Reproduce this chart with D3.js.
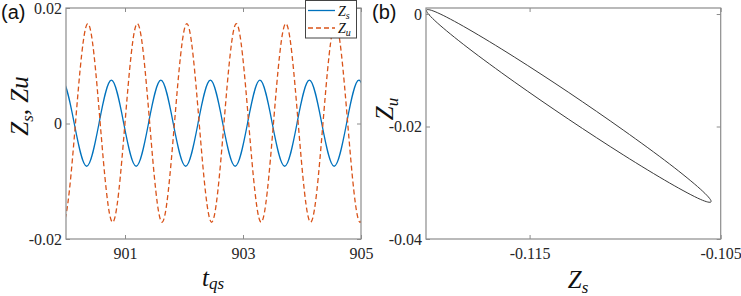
<!DOCTYPE html>
<html>
<head>
<meta charset="utf-8">
<script src="https://cdn.jsdelivr.net/npm/d3@7"></script>
<style>
body { margin: 0; background: #fff; }
.tick text { font-family: "Liberation Serif", serif; font-size: 16px; fill: #262626; }
.lbl { font-family: "Liberation Serif", serif; font-style: italic; font-size: 25px; fill: #111; }
.panel { font-family: "Liberation Sans", sans-serif; font-size: 20px; fill: #111; }
</style>
</head>
<body>
<svg id="chart" width="741" height="296"></svg>
<script>
// panel (a): time series, samples read at peaks / zero crossings
var tZs = [899.720, 899.930, 900.140, 900.350, 900.559, 900.769, 900.979, 901.189, 901.398, 901.608,
  901.818, 902.028, 902.237, 902.447, 902.657, 902.867, 903.076, 903.286, 903.496,
  903.706, 903.915, 904.125, 904.335, 904.545, 904.755, 904.964, 905.174];
var zsVals = [0, 0.0074, 0, -0.0074, 0, 0.0075, 0, -0.0074, 0, 0.0075,
  0, -0.0074, 0, 0.0075, 0, -0.0074, 0, 0.0075, 0,
  -0.0074, 0, 0.0075, 0, -0.0074, 0, 0.0075, 0];

var tZu = [899.741, 899.951, 900.160, 900.370, 900.580, 900.790, 900.999, 901.209, 901.419, 901.628,
  901.838, 902.048, 902.258, 902.468, 902.677, 902.887, 903.097, 903.307, 903.516,
  903.726, 903.936, 904.146, 904.355, 904.565, 904.775, 904.985, 905.194];
var zuVals = [0, -0.0171, 0, 0.0173, 0, -0.0171, 0, 0.0173, 0, -0.0171,
  0, 0.0173, 0, -0.0171, 0, 0.0173, 0, -0.0171, 0,
  0.0173, 0, -0.0171, 0, 0.0173, 0, -0.0171, 0];

// panel (b): phase portrait Zs vs Zu (closed loop)
var ellZs = [-0.10550, -0.10607, -0.10768, -0.11010, -0.11295, -0.11580, -0.11822, -0.11983,
  -0.12040, -0.11983, -0.11822, -0.11580, -0.11295, -0.11010, -0.10768, -0.10607];
var ellZu = [-0.03331, -0.03294, -0.03003, -0.02504, -0.01873, -0.01206, -0.00603, -0.00157,
  0.00063, 0.00025, -0.00265, -0.00764, -0.01395, -0.02063, -0.02665, -0.03111];

// ticks
var aXTicks = [901, 903, 905], aXLabels = ["901", "903", "905"];
var aYTicks = [-0.02, 0, 0.02], aYLabels = ["-0.02", "0", "0.02"];
var bXTicks = [-0.115, -0.105], bXLabels = ["-0.115", "-0.105"];
var bYTicks = [-0.04, -0.02, 0], bYLabels = ["-0.04", "-0.02", "0"];

var legendNames = ["s", "u"];
var seriesColors = ["#0072BD", "#D95319"];
var axisColor = "#8c8c8c";

var svg = d3.select("#chart");

var xa = d3.scaleLinear().domain([900, 905]).range([66, 361]);
var ya = d3.scaleLinear().domain([-0.02, 0.02]).range([239, 8]);
var xb = d3.scaleLinear().domain([-0.12042, -0.105]).range([426, 720.7]);
var yb = d3.scaleLinear().domain([-0.04, 0.00107]).range([239, 8]);

function drawAxes(x, y, xt, xl, yt, yl) {
  var g = svg.append("g").attr("color", axisColor);
  var x0 = x.range()[0], x1 = x.range()[1], y0 = y.range()[0], y1 = y.range()[1];

  g.append("g").attr("transform", "translate(0," + y0 + ")")
    .call(d3.axisBottom(x).tickValues(xt).tickFormat(function(d, i) { return xl[i]; })
      .tickSize(-4).tickPadding(9))
    .call(function(s) { s.select(".domain").remove(); });
  g.append("g").attr("transform", "translate(0," + y1 + ")")
    .call(d3.axisTop(x).tickValues(xt).tickFormat("").tickSize(-4))
    .call(function(s) { s.select(".domain").remove(); });
  g.append("g").attr("transform", "translate(" + x0 + ",0)")
    .call(d3.axisLeft(y).tickValues(yt).tickFormat(function(d, i) { return yl[i]; })
      .tickSize(-4).tickPadding(4))
    .call(function(s) { s.select(".domain").remove(); });
  g.append("g").attr("transform", "translate(" + x1 + ",0)")
    .call(d3.axisRight(y).tickValues(yt).tickFormat("").tickSize(-4))
    .call(function(s) { s.select(".domain").remove(); });

  g.append("rect")
    .attr("x", x0).attr("y", y1)
    .attr("width", x1 - x0).attr("height", y0 - y1)
    .attr("fill", "none").attr("stroke", axisColor).attr("stroke-width", 1.2);
}

function addClip(id, x, y) {
  svg.append("clipPath").attr("id", id).append("rect")
    .attr("x", x.range()[0]).attr("y", y.range()[1])
    .attr("width", x.range()[1] - x.range()[0])
    .attr("height", y.range()[0] - y.range()[1]);
}
addClip("clipA", xa, ya);
addClip("clipB", xb, yb);

// panel (a) lines
var lineA = d3.line()
  .x(function(d) { return xa(d[0]); })
  .y(function(d) { return ya(d[1]); })
  .curve(d3.curveNatural);

var plotA = svg.append("g").attr("clip-path", "url(#clipA)");
plotA.append("path")
  .datum(d3.zip(tZs, zsVals))
  .attr("d", lineA)
  .attr("fill", "none").attr("stroke", seriesColors[0]).attr("stroke-width", 1.3);
plotA.append("path")
  .datum(d3.zip(tZu, zuVals))
  .attr("d", lineA)
  .attr("fill", "none").attr("stroke", seriesColors[1]).attr("stroke-width", 1.3)
  .attr("stroke-dasharray", "5,3");

drawAxes(xa, ya, aXTicks, aXLabels, aYTicks, aYLabels);

// panel (b) loop
var lineB = d3.line()
  .x(function(d) { return xb(d[0]); })
  .y(function(d) { return yb(d[1]); })
  .curve(d3.curveCardinalClosed);

svg.append("g").attr("clip-path", "url(#clipB)")
  .append("path")
  .datum(d3.zip(ellZs, ellZu))
  .attr("d", lineB)
  .attr("fill", "none").attr("stroke", "#3a3a3a").attr("stroke-width", 1);

drawAxes(xb, yb, bXTicks, bXLabels, bYTicks, bYLabels);

// legend
var leg = svg.append("g");
leg.append("rect")
  .attr("x", 305.5).attr("y", 0.5).attr("width", 51).attr("height", 37.5)
  .attr("fill", "#fff").attr("stroke", "#444").attr("stroke-width", 1);
legendNames.forEach(function(n, i) {
  var ly = 10.5 + i * 17.5;
  leg.append("line")
    .attr("x1", 308).attr("x2", 335).attr("y1", ly).attr("y2", ly)
    .attr("stroke", seriesColors[i]).attr("stroke-width", 1.3)
    .attr("stroke-dasharray", i === 1 ? "5,3" : null);
  var t = leg.append("text").attr("class", "lbl").style("font-size", "14px")
    .attr("x", 338).attr("y", ly + 5);
  t.append("tspan").text("Z");
  t.append("tspan").attr("dy", 3).style("font-size", "10px").text(n);
});

// panel letters
svg.append("text").attr("class", "panel").attr("x", 1).attr("y", 19).text("(a)");
svg.append("text").attr("class", "panel").attr("x", 372).attr("y", 19).text("(b)");

// axis labels
var yl = svg.append("text").attr("class", "lbl")
  .attr("transform", "translate(28,106) rotate(-90)").attr("text-anchor", "middle");
yl.append("tspan").text("Z");
yl.append("tspan").attr("dy", 5).style("font-size", "17px").text("s");
yl.append("tspan").attr("dy", -5).text(", Zu");

var xl = svg.append("text").attr("class", "lbl")
  .attr("x", 213).attr("y", 286).attr("text-anchor", "middle");
xl.append("tspan").text("t");
xl.append("tspan").attr("dy", 3).style("font-size", "17px").text("qs");

var xl2 = svg.append("text").attr("class", "lbl")
  .attr("x", 578).attr("y", 288).attr("text-anchor", "middle");
xl2.append("tspan").text("Z");
xl2.append("tspan").attr("dy", 5).style("font-size", "17px").text("s");

var yl2 = svg.append("text").attr("class", "lbl")
  .attr("transform", "translate(393,109) rotate(-90)").attr("text-anchor", "middle");
yl2.append("tspan").text("Z");
yl2.append("tspan").attr("dy", 5).style("font-size", "17px").text("u");
</script>
</body>
</html>
